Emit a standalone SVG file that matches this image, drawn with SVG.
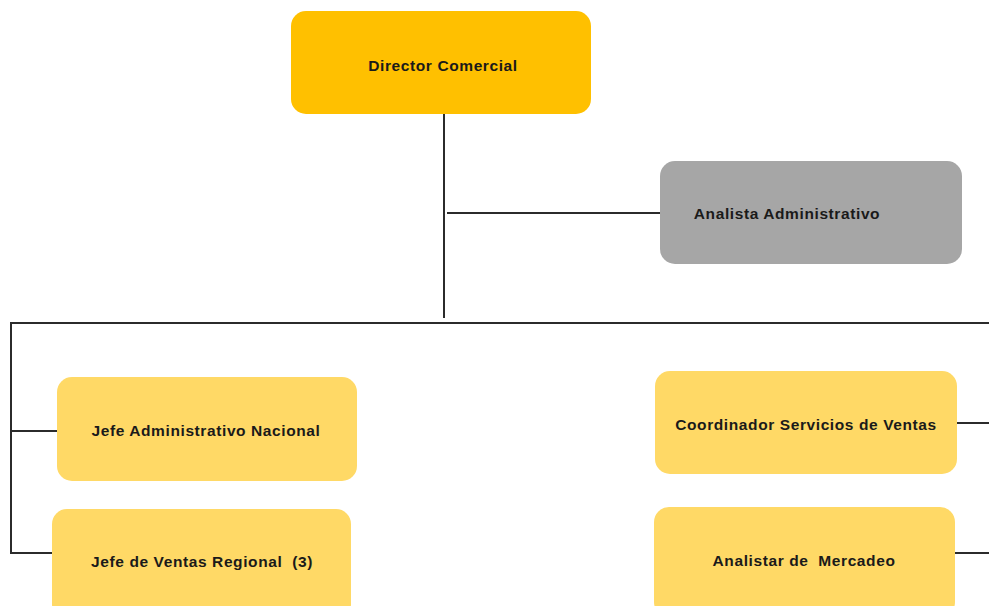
<svg xmlns="http://www.w3.org/2000/svg" width="989" height="606" viewBox="0 0 989 606">
<style>
.box{stroke:none}
.gold{fill:#FFC000}
.light{fill:#FFD966}
.gray{fill:#A6A6A6}
.lbl{font-family:"Liberation Sans",Arial,sans-serif;font-weight:bold;font-size:15.5px;letter-spacing:0.6px;fill:#1a1a1a;text-anchor:middle;dominant-baseline:central;white-space:pre}
.conn{stroke:#2b2b2b;stroke-width:2;fill:none}
</style>
<rect width="989" height="606" fill="#ffffff"/>
<g id="connectors">
<line class="conn" x1="444" y1="114" x2="444" y2="318"/>
<line class="conn" x1="447" y1="213" x2="660" y2="213"/>
<line class="conn" x1="10" y1="323" x2="989" y2="323"/>
<line class="conn" x1="11" y1="322" x2="11" y2="554"/>
<line class="conn" x1="11" y1="431" x2="57" y2="431"/>
<line class="conn" x1="11" y1="553" x2="52" y2="553"/>
<line class="conn" x1="957" y1="423" x2="989" y2="423"/>
<line class="conn" x1="955" y1="553" x2="989" y2="553"/>
</g>
<g id="director">
<rect class="box gold" x="291" y="11" width="300" height="103" rx="15"/>
<text class="lbl" x="443" y="65">Director Comercial</text>
</g>
<g id="analista-admin">
<rect class="box gray" x="660" y="161" width="302" height="103" rx="15"/>
<text class="lbl" x="787" y="213">Analista Administrativo</text>
</g>
<g id="jefe-admin">
<rect class="box light" x="57" y="377" width="300" height="104" rx="15"/>
<text class="lbl" x="206" y="430">Jefe Administrativo Nacional</text>
</g>
<g id="jefe-ventas">
<rect class="box light" x="52" y="509" width="299" height="110" rx="15"/>
<text class="lbl" x="202" y="561">Jefe de Ventas Regional  (3)</text>
</g>
<g id="coordinador">
<rect class="box light" x="655" y="371" width="302" height="103" rx="15"/>
<text class="lbl" x="806" y="424">Coordinador Servicios de Ventas</text>
</g>
<g id="analistar">
<rect class="box light" x="654" y="507" width="301" height="110" rx="15"/>
<text class="lbl" x="804" y="560">Analistar de  Mercadeo</text>
</g>
</svg>
